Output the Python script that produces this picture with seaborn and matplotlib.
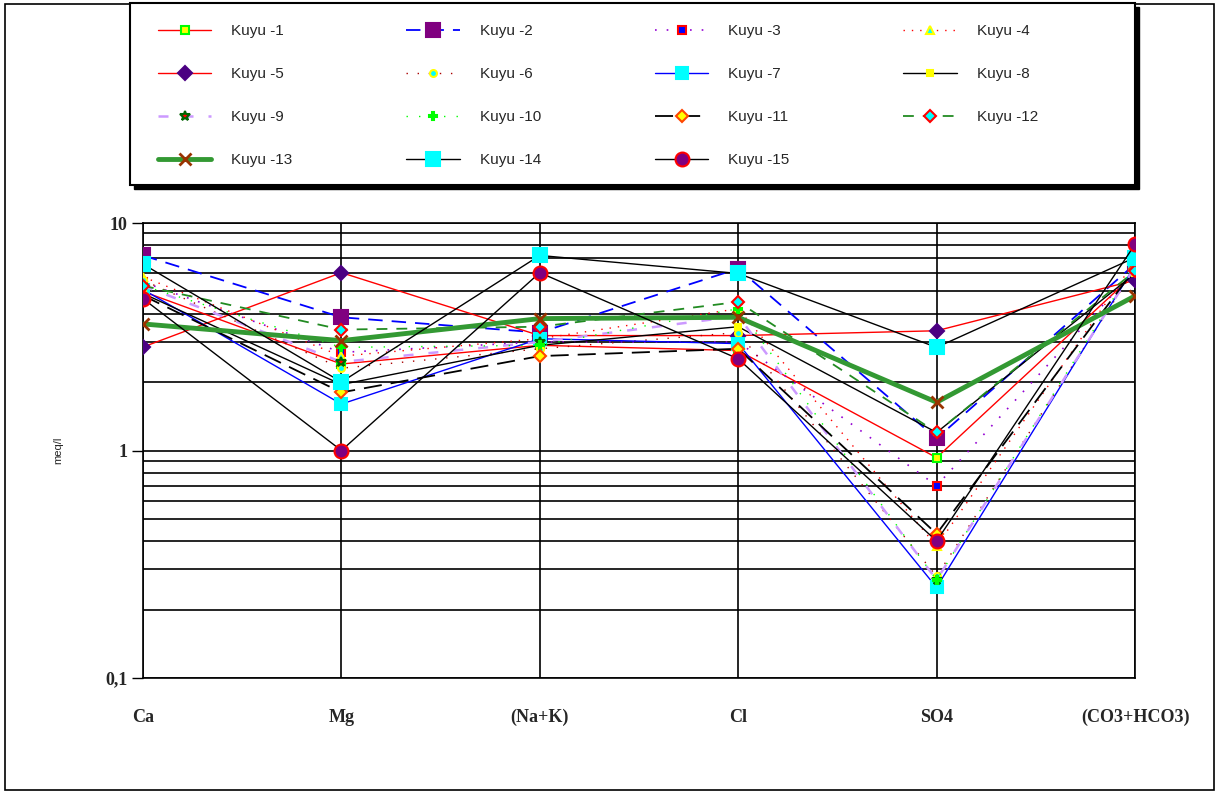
import pandas as pd
import matplotlib.pyplot as plt
import seaborn as sns
from matplotlib.patches import Rectangle

# --- Data (meq/l) ---
categories = ["Ca", "Mg", "(Na+K)", "Cl", "SO4", "(CO3+HCO3)"]

kuyu_1 = [5.0, 2.4, 2.9, 2.75, 0.93, 6.0]
kuyu_2 = [7.2, 3.85, 3.3, 6.3, 1.13, 6.6]
kuyu_3 = [5.5, 2.7, 3.0, 3.0, 0.70, 6.2]
kuyu_4 = [5.8, 2.6, 3.1, 4.2, 0.38, 6.8]
kuyu_5 = [2.85, 6.05, 3.2, 3.2, 3.36, 5.6]
kuyu_6 = [5.6, 2.3, 2.8, 3.3, 0.28, 6.3]
kuyu_7 = [5.1, 1.6, 3.1, 2.95, 0.25, 6.5]
kuyu_8 = [4.9, 1.95, 2.9, 3.5, 1.2, 6.0]
kuyu_9 = [5.3, 2.45, 3.0, 3.9, 0.27, 6.4]
kuyu_10 = [5.3, 2.84, 2.9, 4.2, 0.27, 6.6]
kuyu_11 = [4.8, 1.8, 2.6, 2.8, 0.43, 6.3]
kuyu_12 = [5.3, 3.4, 3.5, 4.5, 1.2, 6.15]
kuyu_13 = [3.6, 3.04, 3.8, 3.85, 1.63, 4.78]
kuyu_14 = [6.6, 2.0, 7.2, 6.0, 2.84, 7.05]
kuyu_15 = [4.65, 1.0, 6.05, 2.53, 0.40, 8.05]

wells = [kuyu_1, kuyu_2, kuyu_3, kuyu_4, kuyu_5, kuyu_6, kuyu_7, kuyu_8,
         kuyu_9, kuyu_10, kuyu_11, kuyu_12, kuyu_13, kuyu_14, kuyu_15]
labels = [f"Kuyu -{i}" for i in range(1, 16)]

rows = []
for lab, vals in zip(labels, wells):
    for cat, v in zip(categories, vals):
        rows.append({"well": lab, "ion": cat, "meq": v})
df = pd.DataFrame(rows)

# line colour, linestyle, lw, marker, face, edge, size
styles = {
    "Kuyu -1": ("red", "-", 1.0, "s", "yellow", "lime", 6),
    "Kuyu -2": ("blue", (0, (8, 5)), 1.3, "s", "purple", "purple", 10),
    "Kuyu -3": ("darkviolet", (0, (1, 6)), 1.2, "s", "blue", "red", 6),
    "Kuyu -4": ("red", (0, (1, 5)), 1.0, "^", "cyan", "yellow", 6),
    "Kuyu -5": ("red", "-", 1.0, "D", "#4b0082", "#4b0082", 7),
    "Kuyu -6": ("#aa0000", (0, (1, 7)), 1.0, "o", "cyan", "yellow", 5),
    "Kuyu -7": ("blue", "-", 1.0, "s", "cyan", "cyan", 9),
    "Kuyu -8": ("black", "-", 1.0, "s", "yellow", "yellow", 4),
    "Kuyu -9": ("#cc99ff", (0, (4, 6)), 1.8, "*", "red", "darkgreen", 7),
    "Kuyu -10": ("lime", (0, (1, 8)), 1.0, "P", "lime", "lime", 6),
    "Kuyu -11": ("black", (0, (10, 5)), 1.3, "D", "yellow", "orangered", 6),
    "Kuyu -12": ("forestgreen", (0, (6, 5)), 1.3, "D", "cyan", "red", 6),
    "Kuyu -13": ("#339933", "-", 3.5, "x", "#993300", "#993300", 9),
    "Kuyu -14": ("black", "-", 1.0, "s", "cyan", "cyan", 10),
    "Kuyu -15": ("black", "-", 1.0, "o", "purple", "red", 10),
}

sns.set_style("white")
plt.rcParams["font.family"] = ["Liberation Sans", "DejaVu Sans"]

fig = plt.figure(figsize=(12.19, 7.94), dpi=100)
ax = fig.add_axes([143 / 1219, 1 - 678 / 794, (1135 - 143) / 1219, (678 - 223) / 794])

for lab in labels:
    color, ls, lw, mk, fc, ec, ms = styles[lab]
    sub = df[df["well"] == lab]
    sns.lineplot(data=sub, x="ion", y="meq", sort=False, ax=ax, label=lab,
                 color=color, linestyle=ls, linewidth=lw, marker=mk,
                 markerfacecolor=fc, markeredgecolor=ec, markersize=ms,
                 markeredgewidth=1.5 if mk != "x" else 2, zorder=3)

ax.set_yscale("log")
ax.set_ylim(0.1, 10)
ax.set_xlim(0, len(categories) - 1)
ax.set_yticks([0.1, 1, 10])
ax.set_yticklabels(["0,1", "1", "10"], family="Liberation Serif",
                   fontsize=13, weight="bold")
ax.set_xticks(range(len(categories)))
ax.set_xticklabels(categories, family="Liberation Serif", fontsize=13, weight="bold")
ax.tick_params(axis="y", which="major", length=8, width=1, color="black",
               direction="out", pad=3, left=True)
ax.tick_params(axis="y", which="minor", length=0)
ax.tick_params(axis="x", length=0, pad=22)

ax.grid(True, which="both", axis="y", color="black", linewidth=1.2)
ax.grid(True, which="major", axis="x", color="black", linewidth=1.2)
for s in ax.spines.values():
    s.set_color("black")
    s.set_linewidth(1.2)

ax.set_xlabel("")
ax.set_ylabel("meq/l", fontsize=8)
ax.yaxis.set_label_coords(-0.08, 0.5)

# legend: row-major order like the original (4 columns)
handles, labs = ax.get_legend_handles_labels()
order = [0, 4, 8, 12, 1, 5, 9, 13, 2, 6, 10, 14, 3, 7, 11]
leg = ax.legend([handles[i] for i in order], [labs[i] for i in order],
                loc="upper left", bbox_to_anchor=(158 / 1219, 1 - 24 / 794),
                bbox_transform=fig.transFigure, ncol=4, fontsize=11,
                frameon=False, handlelength=3.5, handletextpad=1.3,
                columnspacing=7.45, labelspacing=1.9, borderpad=0,
                borderaxespad=0)

# legend box with black drop shadow (behind the axes/legend)
fig.patches.append(Rectangle((134 / 1219, 1 - 189 / 794), 1005 / 1219, 182 / 794,
                             transform=fig.transFigure, facecolor="black",
                             edgecolor="black", zorder=-3))
fig.patches.append(Rectangle((130 / 1219, 1 - 185 / 794), 1005 / 1219, 182 / 794,
                             transform=fig.transFigure, facecolor="white",
                             edgecolor="black", linewidth=1.5, zorder=-2))
# outer chart border
fig.patches.append(Rectangle((5 / 1219, 4 / 794), 1209 / 1219, 786 / 794,
                             transform=fig.transFigure, fill=False,
                             edgecolor="black", linewidth=1.2, zorder=-4))

fig.savefig("out.png", dpi=100)
